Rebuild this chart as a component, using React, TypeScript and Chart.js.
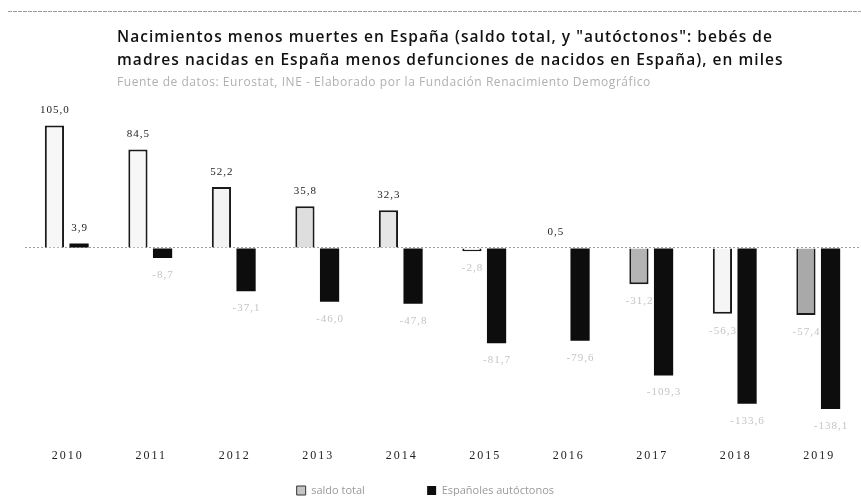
import React, { useEffect, useRef } from 'react';
import { Chart, registerables } from 'chart.js';

Chart.register(...registerables);

const years = ['2010', '2011', '2012', '2013', '2014', '2015', '2016', '2017', '2018', '2019'];
const saldoTotal = [105.0, 84.5, 52.2, 35.8, 32.3, -2.8, 0.5, -31.2, -56.3, -57.4];
const autoctonos = [3.9, -8.7, -37.1, -46.0, -47.8, -81.7, -79.6, -109.3, -133.6, -138.1];
const saldoFill = ['#f7f7f7', '#f7f7f7', '#f3f3f3', '#dedede', '#e6e6e6', '#f7f7f7', '#f7f7f7', '#b4b4b4', '#f5f5f5', '#a9a9a9'];
const seriesNames = ['saldo total', 'Españoles autóctonos'];
const titleLines = [
  'Nacimientos menos muertes en España (saldo total, y "autóctonos": bebés de',
  'madres nacidas en España menos defunciones de nacidos en España), en miles',
];
const subtitle = 'Fuente de datos: Eurostat, INE - Elaborado por la Fundación Renacimiento Demográfico';

export default function App() {
  const ref = useRef<HTMLCanvasElement>(null);

  useEffect(() => {
    if (!ref.current) return;
    const fmt = (v: number) => v.toFixed(1).replace('.', ',');

    const headerPlugin = {
      id: 'header',
      beforeDraw(chart: any) {
        const { ctx, width, height } = chart;
        ctx.save();
        ctx.fillStyle = '#ffffff';
        ctx.fillRect(0, 0, width, height);
        ctx.strokeStyle = '#9a9a9a';
        ctx.lineWidth = 1;
        ctx.setLineDash([4, 1]);
        ctx.beginPath();
        ctx.moveTo(8, 11.5);
        ctx.lineTo(width, 11.5);
        ctx.stroke();
        ctx.setLineDash([]);
        ctx.textAlign = 'left';
        ctx.textBaseline = 'middle';
        ctx.fillStyle = '#111';
        ctx.font = '600 15.5px "Open Sans"';
        (ctx as any).letterSpacing = '1.05px';
        ctx.fillText(titleLines[0], 117, 38);
        ctx.fillText(titleLines[1], 117, 61);
        ctx.fillStyle = '#b0b0b0';
        ctx.font = '12px "Open Sans"';
        (ctx as any).letterSpacing = '0.55px';
        ctx.fillText(subtitle, 117, 83);
        ctx.restore();
      },
    };

    const labelPlugin = {
      id: 'valueLabels',
      afterDatasetsDraw(chart: any) {
        const { ctx } = chart;
        ctx.save();
        ctx.font = '11px "Liberation Serif"';
        (ctx as any).letterSpacing = '1px';
        ctx.textAlign = 'center';
        ctx.textBaseline = 'middle';
        chart.data.datasets.forEach((ds: any, di: number) => {
          const meta = chart.getDatasetMeta(di);
          meta.data.forEach((el: any, i: number) => {
            const v = ds.data[i] as number;
            if (v >= 0) {
              ctx.fillStyle = '#222';
              ctx.fillText(fmt(v), el.x + 0.5, el.y - 15);
            } else {
              ctx.fillStyle = '#c4c4c4';
              ctx.fillText(fmt(v), el.x + 0.5, el.y + 17);
            }
          });
        });
        // x category labels, drawn through the x scale
        const xs = chart.scales.x;
        ctx.font = '12px "Liberation Serif"';
        (ctx as any).letterSpacing = '2px';
        ctx.fillStyle = '#222';
        const yLab = xs.top + 21;
        chart.data.labels.forEach((lab: string, i: number) => {
          ctx.fillText(lab, xs.getPixelForValue(i) + 1, yLab);
        });
        ctx.restore();
      },
    };

    const chart = new Chart(ref.current, {
      type: 'bar',
      data: {
        labels: years,
        datasets: [
          {
            label: seriesNames[0],
            data: saldoTotal,
            backgroundColor: saldoFill,
            borderColor: '#1a1a1a',
            borderWidth: 2,
          },
          {
            label: seriesNames[1],
            data: autoctonos,
            backgroundColor: '#0d0d0d',
            borderWidth: 0,
          },
        ],
      },
      options: {
        responsive: false,
        animation: false,
        categoryPercentage: 0.59,
        barPercentage: 0.78,
        layout: { padding: { top: 108, left: 25, right: 1, bottom: -10 } },
        plugins: {
          tooltip: { enabled: false },
          title: { display: false },
          legend: {
            position: 'bottom',
            labels: {
              boxWidth: 9,
              boxHeight: 9,
              padding: 8,
              color: '#9a9a9a',
              font: { family: '"Open Sans"', size: 11 },
              generateLabels: (c: any) => {
                const items = Chart.defaults.plugins.legend.labels.generateLabels(c);
                items[0].text = items[0].text + '\u00A0'.repeat(19);
                items[0].fillStyle = '#c4c4c4';
                items[0].strokeStyle = '#333';
                items[0].lineWidth = 1;
                items[1].text = items[1].text + '\u00A0'.repeat(12);
                items[1].fillStyle = '#0d0d0d';
                items[1].strokeStyle = '#0d0d0d';
                items[1].lineWidth = 0;
                return items;
              },
            },
          },
        },
        scales: {
          x: {
            grid: { display: false, drawTicks: false },
            border: { display: false },
            ticks: {
              color: 'rgba(0,0,0,0)',
              padding: 14,
              font: { family: '"Liberation Serif"', size: 12 },
            },
          },
          y: {
            min: -160,
            max: 120,
            ticks: { display: false, stepSize: 20 },
            grid: {
              drawTicks: false,
              color: (ctx: any) => (ctx.tick && ctx.tick.value === 0 ? '#a0a0a0' : 'rgba(0,0,0,0)'),
              borderDash: [2, 2],
            } as any,
            border: { display: false, dash: [2, 2] },
          },
        },
      },
      plugins: [headerPlugin, labelPlugin],
    });

    return () => chart.destroy();
  }, []);

  return (
    <div style={{ position: 'fixed', left: 0, top: 0, width: 861, height: 496, background: '#fff' }}>
      <canvas ref={ref} width={861} height={496} style={{ display: 'block' }} />
    </div>
  );
}
